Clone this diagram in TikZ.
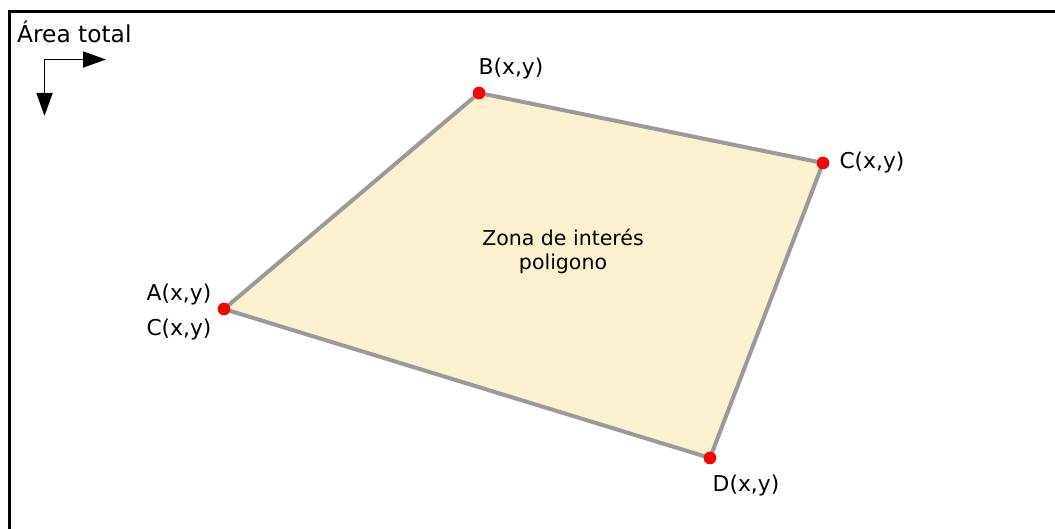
\documentclass[tikz,border=0pt]{standalone}
\usepackage{fontspec}
\setmainfont{DejaVu Sans}
\usetikzlibrary{arrows.meta}
\definecolor{zonefill}{HTML}{FBF0D0}
\definecolor{edgegray}{HTML}{9A9A9A}
\begin{document}
\begin{tikzpicture}[x=1pt,y=-1pt,
  lbl/.style={inner sep=0pt, font=\fontsize{21.8}{26}\selectfont},
  zonelbl/.style={inner sep=0pt, font=\fontsize{20.5}{24.5}\selectfont},
  titlelbl/.style={inner sep=0pt, font=\fontsize{23.3}{28}\selectfont},
  vertexdot/.style={circle, fill=red, inner sep=0pt, minimum size=12.6pt},
  polyedge/.style={draw=edgegray, line width=4pt, line join=round},
  axisarrow/.style={line width=1.6pt, -{Triangle[length=23pt,width=16pt]}}]
\useasboundingbox (0,0) rectangle (1055,529);
\fill[white] (0,0) rectangle (1055,529);
% frame
\coordinate (frameBL) at (9.5,529);
\coordinate (frameTL) at (9.5,11.5);
\coordinate (frameTR) at (1055,11.5);
\draw[line width=3.5pt] (frameBL) -- (frameTL) -- (frameTR);
% polygon vertices
\coordinate (A) at (224,309);
\coordinate (B) at (479,93);
\coordinate (C) at (823,163);
\coordinate (D) at (710,458);
\filldraw[fill=zonefill, polyedge] (A) -- (B) -- (C) -- (D) -- cycle;
\node[vertexdot] (dA) at (A) {};
\node[vertexdot] (dB) at (B) {};
\node[vertexdot] (dC) at (C) {};
\node[vertexdot] (dD) at (D) {};
% labels
\node[titlelbl, anchor=base west] (total) at (17,43) {Área total};
\node[lbl, anchor=base] (lA) at (179,300.7) {A(x,y)};
\node[lbl, anchor=base] (lC2) at (179,335.7) {C(x,y)};
\node[lbl, anchor=base] (lB) at (511,75) {B(x,y)};
\node[lbl, anchor=base] (lC) at (872,168.3) {C(x,y)};
\node[lbl, anchor=base] (lD) at (746,491.7) {D(x,y)};
\node[zonelbl, anchor=base] (zona1) at (563,245.7) {Zona de interés};
\node[zonelbl, anchor=base] (zona2) at (563,270) {poligono};
% axis arrows
\coordinate (origin) at (44.5,59.5);
\coordinate (xend) at (106,59.5);
\coordinate (yend) at (44.5,116);
\draw[axisarrow] (origin) -- (xend);
\draw[axisarrow] (origin) -- (yend);
\end{tikzpicture}
\end{document}
